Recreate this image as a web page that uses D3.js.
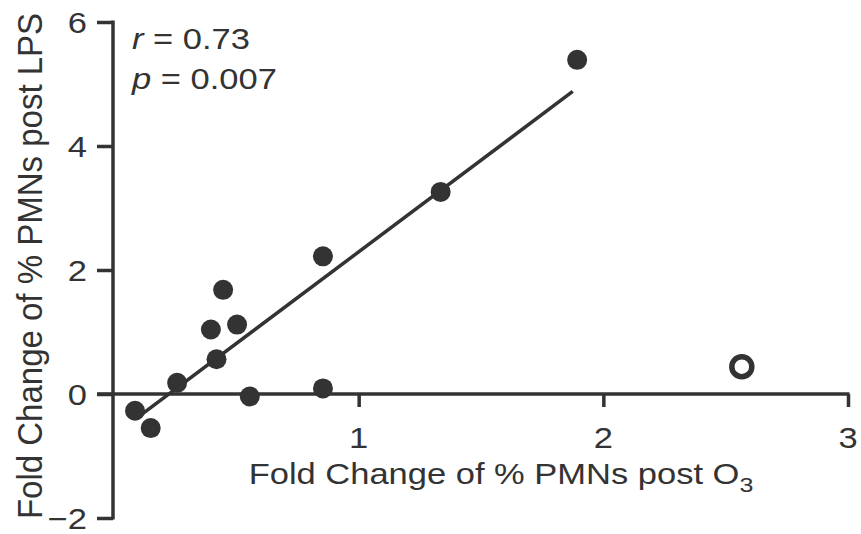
<!DOCTYPE html>
<html><head><meta charset="utf-8">
<script src="https://cdn.jsdelivr.net/npm/d3@7"></script>
<style>body{margin:0;background:#fff;} text{font-family:"Liberation Sans",Arial,sans-serif;fill:#333;}</style>
</head><body>
<svg id="c" width="861" height="534"></svg>
<script>
// data
const xVals = [0.086, 0.15, 0.258, 0.396, 0.419, 0.446, 0.503, 0.555, 0.854, 0.854, 1.335, 1.893];
const yVals = [-0.27, -0.55, 0.18, 1.04, 0.56, 1.68, 1.12, -0.04, 2.22, 0.09, 3.26, 5.39];
const outlierX = [2.566];
const outlierY = [0.44];
const fitX = [0.12, 1.875];
const fitY = [-0.31, 4.88];
const xTicks = [1, 2, 3];
const yTicks = [-2, 0, 2, 4, 6];
const statR = "0.73";
const statP = "0.007";

const svg = d3.select("#c");
const col = "#333";
const FS = 29, SX = 1.19;
const x = d3.scaleLinear().domain([0, 3]).range([114, 848]);
const y = d3.scaleLinear().domain([-2, 6]).range([518, 22]);

function label(px, py, anchor, build) {
  const g = svg.append("g").attr("transform", `translate(${px},${py}) scale(${SX},1)`);
  const t = g.append("text").attr("text-anchor", anchor).attr("font-size", FS);
  build(t);
  return t;
}

// y axis
const yAxis = d3.axisLeft(y).tickValues(yTicks).tickSize(16).tickFormat("");
const gy = svg.append("g").attr("transform", `translate(${x(0)-1},0)`).call(yAxis);
gy.select(".domain").remove();
gy.append("line").attr("x1", 0).attr("x2", 0).attr("y1", y(6)-1.5).attr("y2", y(-2)+1.5)
  .attr("stroke", col).attr("stroke-width", 3.5);
gy.selectAll(".tick line").attr("stroke", col).attr("stroke-width", 3.5);
yTicks.forEach(v => label(x(0) - 27, y(v) + 10.5, "end",
  t => t.text(v < 0 ? "\u2212" + Math.abs(v) : String(v))));

// x axis at y=0
const xAxis = d3.axisBottom(x).tickValues(xTicks).tickSize(13).tickFormat("");
const gx = svg.append("g").attr("transform", `translate(0,${y(0)})`).call(xAxis);
gx.select(".domain").remove();
gx.append("line").attr("x1", x(0)-17).attr("x2", x(3)+1.5).attr("y1", 0).attr("y2", 0)
  .attr("stroke", col).attr("stroke-width", 3.5);
gx.selectAll(".tick line").attr("stroke", col).attr("stroke-width", 3.5);
xTicks.forEach(v => label(x(v), y(0) + 54, "middle", t => t.text(String(v))));

// regression line
svg.append("line")
  .attr("x1", x(fitX[0])).attr("y1", y(fitY[0]))
  .attr("x2", x(fitX[1])).attr("y2", y(fitY[1]))
  .attr("stroke", col).attr("stroke-width", 3.5);

// points
svg.selectAll("circle.pt").data(xVals.map((v, i) => [v, yVals[i]])).enter()
  .append("circle").attr("class", "pt")
  .attr("cx", d => x(d[0])).attr("cy", d => y(d[1])).attr("r", 10)
  .attr("fill", col);

svg.selectAll("circle.out").data(outlierX.map((v, i) => [v, outlierY[i]])).enter()
  .append("circle").attr("class", "out")
  .attr("cx", d => x(d[0])).attr("cy", d => y(d[1])).attr("r", 10)
  .attr("fill", "none").attr("stroke", col).attr("stroke-width", 5.5);

// stats
label(132, 49, "start", t => {
  t.append("tspan").attr("font-style", "italic").text("r");
  t.append("tspan").text(" = " + statR);
});
label(132, 89, "start", t => {
  t.append("tspan").attr("font-style", "italic").text("p");
  t.append("tspan").text(" = " + statP);
});

// axis titles
label(501, 484, "middle", t => {
  t.append("tspan").text("Fold Change of % PMNs post O");
  t.append("tspan").attr("font-size", 21).attr("dy", 8).text("3");
});

svg.append("g").attr("transform", `translate(42,266) scale(1.05,1) rotate(-90)`)
  .append("text").attr("text-anchor", "middle").attr("font-size", 33)
  .text("Fold Change of % PMNs post LPS");
</script>
</body></html>
